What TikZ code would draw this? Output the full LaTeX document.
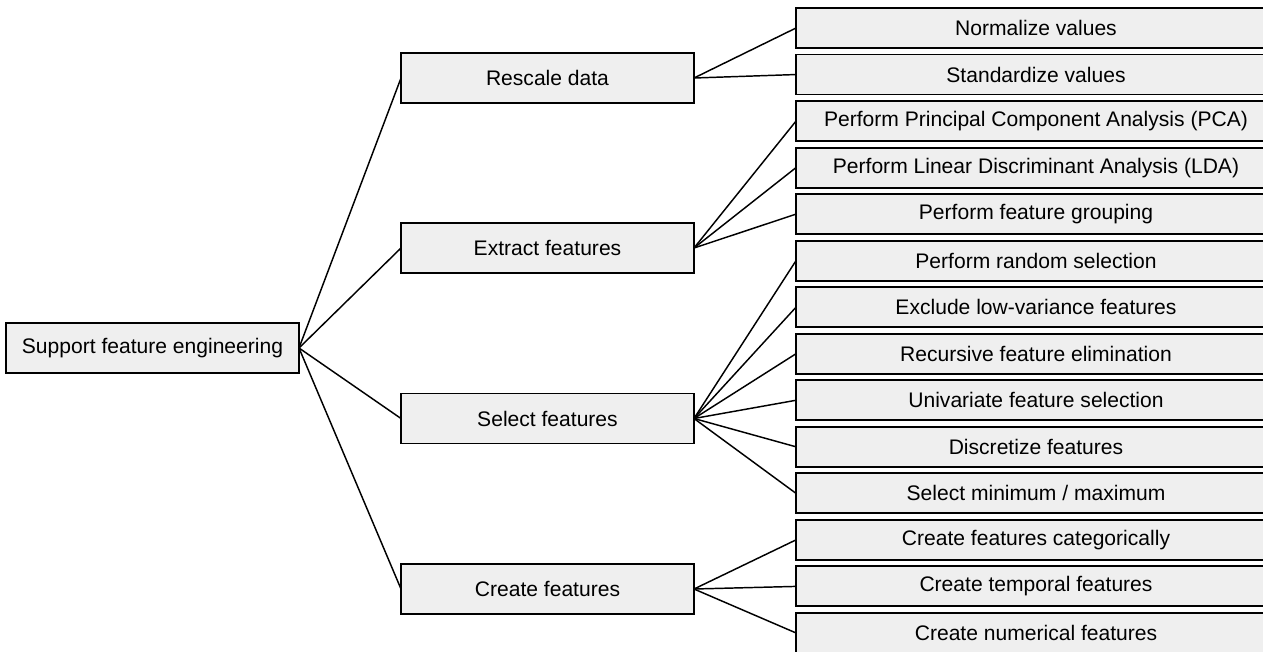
\documentclass[tikz,border=0pt]{standalone}
\usepackage{fontspec}
\setmainfont{Liberation Sans}
\usetikzlibrary{positioning}

\definecolor{boxfill}{HTML}{EFEFEF}

\begin{document}
\begin{tikzpicture}[x=0.75pt, y=-0.75pt,
			font=\fontsize{15.8pt}{19pt}\selectfont,
			box/.style={draw, fill=boxfill, line width=1.4pt, inner sep=0pt, outer sep=0pt, minimum width=219.75pt, minimum height=37.5pt},
			leaf/.style={box, minimum width=360pt, minimum height=30pt},
			link/.style={draw, line width=1.1pt}]
			\useasboundingbox (0,0) rectangle (1263,651);
			\clip (0,0) rectangle (1263,651);
			% root and second level
			\node[box] (root) at (152.5,348) {Support feature engineering};
			\node[box] (rescale) at (547.5,78) {Rescale data};
			\node[box] (extract) at (547.5,248) {Extract features};
			\node[box] (select) at (547.5,418.5) {Select features};
			\node[box] (create) at (547.5,589) {Create features};
			% leaves, stacked from the top
			\node[leaf] (normalize) at (1036,28) {Normalize values};
			\node[leaf, below=4.9pt of normalize] (standardize) {Standardize values};
			\node[leaf, below=4.9pt of standardize] (pca) {Perform Principal Component Analysis (PCA)};
			\node[leaf, below=4.9pt of pca] (lda) {Perform Linear Discriminant Analysis (LDA)};
			\node[leaf, below=4.9pt of lda] (grouping) {Perform feature grouping};
			\node[leaf, below=4.9pt of grouping] (random) {Perform random selection};
			\node[leaf, below=4.9pt of random] (lowvar) {Exclude low-variance features};
			\node[leaf, below=4.9pt of lowvar] (recursive) {Recursive feature elimination};
			\node[leaf, below=4.9pt of recursive] (univariate) {Univariate feature selection};
			\node[leaf, below=4.9pt of univariate] (discretize) {Discretize features};
			\node[leaf, below=4.9pt of discretize] (minmax) {Select minimum / maximum};
			\node[leaf, below=4.9pt of minmax] (categorical) {Create features categorically};
			\node[leaf, below=4.9pt of categorical] (temporal) {Create temporal features};
			\node[leaf, below=4.9pt of temporal] (numerical) {Create numerical features};
			% connectors
			\path[link] (root.east) -- (rescale.west);
			\path[link] (root.east) -- (extract.west);
			\path[link] (root.east) -- (select.west);
			\path[link] (root.east) -- (create.west);
			\path[link] (rescale.east) -- (normalize.west);
			\path[link] (rescale.east) -- (standardize.west);
			\path[link] (extract.east) -- (pca.west);
			\path[link] (extract.east) -- (lda.west);
			\path[link] (extract.east) -- (grouping.west);
			\path[link] (select.east) -- (random.west);
			\path[link] (select.east) -- (lowvar.west);
			\path[link] (select.east) -- (recursive.west);
			\path[link] (select.east) -- (univariate.west);
			\path[link] (select.east) -- (discretize.west);
			\path[link] (select.east) -- (minmax.west);
			\path[link] (create.east) -- (categorical.west);
			\path[link] (create.east) -- (temporal.west);
			\path[link] (create.east) -- (numerical.west);
	\end{tikzpicture}
\end{document}
